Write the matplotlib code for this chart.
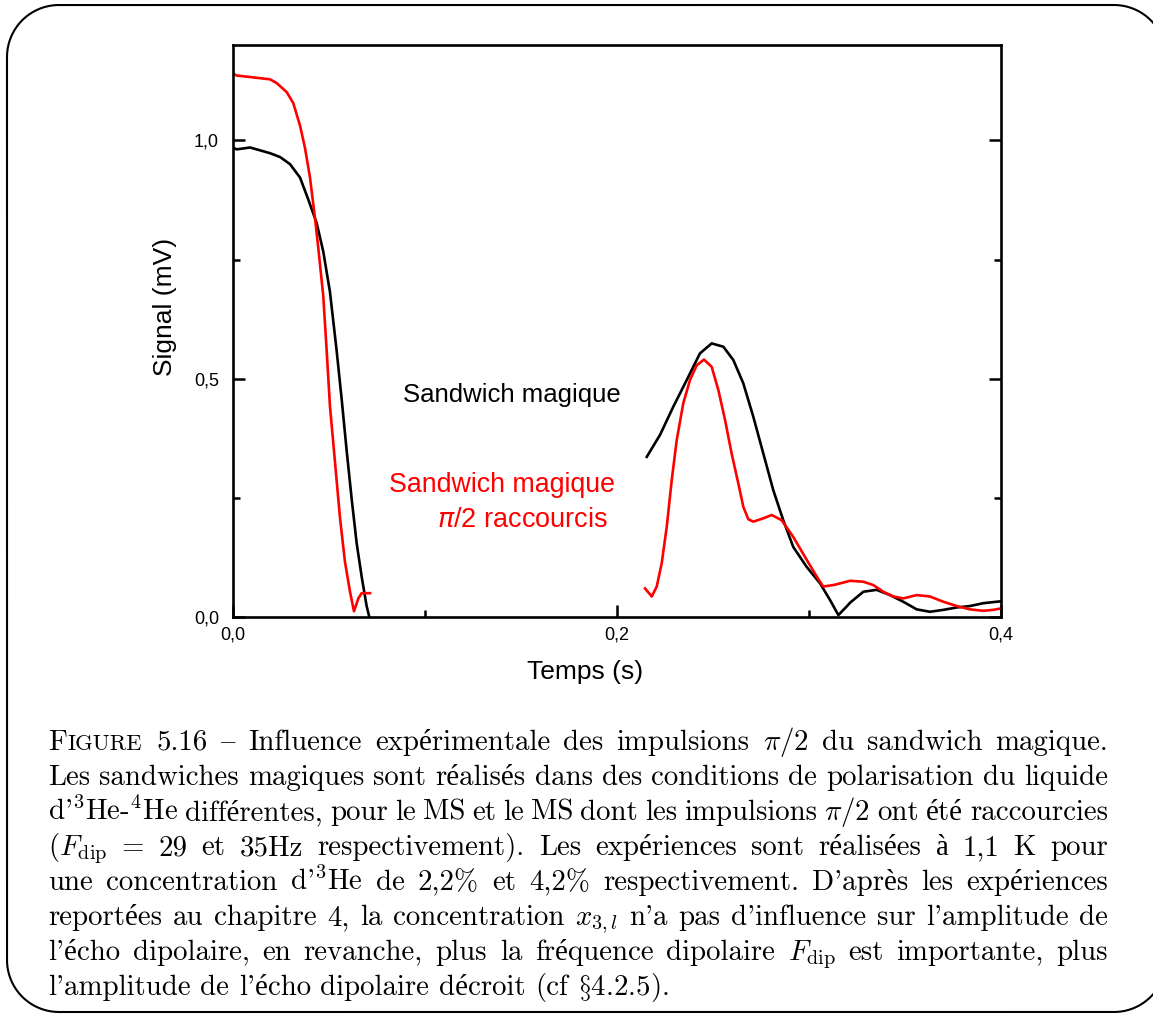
import matplotlib
matplotlib.use("Agg")
import numpy as np
import matplotlib.pyplot as plt
from matplotlib.lines import Line2D
from matplotlib.ticker import FuncFormatter, MultipleLocator

W, H = 1153, 1016
plt.rcParams["font.family"] = ["Liberation Sans", "DejaVu Sans"]
plt.rcParams["mathtext.fontset"] = "cm"

# values: time (s), signal (mV)
black_fid_t = [0.000, 0.0019, 0.0089, 0.0193, 0.0245, 0.0297, 0.0349, 0.0392, 0.0436,
               0.0470, 0.0505, 0.0540, 0.0566, 0.0592, 0.0618, 0.0644, 0.0670, 0.0696, 0.0710]
black_fid_v = [0.985, 0.981, 0.985, 0.973, 0.965, 0.950, 0.922, 0.876, 0.826,
               0.767, 0.682, 0.558, 0.457, 0.349, 0.248, 0.155, 0.085, 0.023, 0.000]

red_fid_t = [0.000, 0.0019, 0.0193, 0.0228, 0.0280, 0.0314, 0.0349, 0.0375, 0.0401, 0.0427,
             0.0444, 0.0470, 0.0488, 0.0505, 0.0531, 0.0557, 0.0583, 0.0609, 0.0630, 0.0653,
             0.0670, 0.0714]
red_fid_v = [1.140, 1.136, 1.128, 1.120, 1.101, 1.078, 1.031, 0.984, 0.922, 0.837,
             0.775, 0.674, 0.558, 0.442, 0.326, 0.209, 0.116, 0.054, 0.012, 0.039,
             0.050, 0.050]

black_echo_t = [0.2155, 0.2224, 0.2293, 0.2363, 0.2432, 0.2493, 0.2554, 0.2606, 0.2658,
                0.2710, 0.2762, 0.2814, 0.2866, 0.2918, 0.2988, 0.3057, 0.3109, 0.3153,
                0.3196, 0.3214, 0.3283, 0.3352, 0.3422, 0.3491, 0.3561, 0.3630, 0.3700,
                0.3769, 0.3839, 0.3908, 0.4000]
black_echo_v = [0.336, 0.382, 0.441, 0.497, 0.553, 0.574, 0.567, 0.539, 0.490,
                0.420, 0.343, 0.266, 0.203, 0.147, 0.105, 0.071, 0.036, 0.004,
                0.022, 0.030, 0.053, 0.057, 0.046, 0.032, 0.016, 0.011, 0.015,
                0.020, 0.023, 0.029, 0.033]

red_echo_t = [0.2146, 0.2181, 0.2207, 0.2233, 0.2259, 0.2285, 0.2311, 0.2345, 0.2380,
              0.2415, 0.2453, 0.2493, 0.2528, 0.2563, 0.2597, 0.2632, 0.2658, 0.2684,
              0.2710, 0.2762, 0.2806, 0.2858, 0.2918, 0.2988, 0.3040, 0.3074, 0.3127,
              0.3196, 0.3214, 0.3283, 0.3335, 0.3387, 0.3439, 0.3491, 0.3561, 0.3630,
              0.3700, 0.3769, 0.3839, 0.3908, 0.3960, 0.4000]
red_echo_v = [0.060, 0.043, 0.064, 0.113, 0.189, 0.287, 0.371, 0.448, 0.497,
              0.528, 0.540, 0.525, 0.476, 0.413, 0.343, 0.280, 0.231, 0.205,
              0.200, 0.207, 0.214, 0.203, 0.168, 0.120, 0.085, 0.064, 0.067,
              0.074, 0.076, 0.074, 0.067, 0.053, 0.043, 0.039, 0.046, 0.043,
              0.032, 0.023, 0.016, 0.013, 0.015, 0.018]

caption = [
    r"FIGURE 5.16 – Influence expérimentale des impulsions $\pi/2$ du sandwich magique.",
    r"Les sandwiches magiques sont réalisés dans des conditions de polarisation du liquide",
    r"d'$^3$He-$^4$He différentes, pour le MS et le MS dont les impulsions $\pi/2$ ont été raccourcies",
    r"($F_\mathrm{dip}$ = 29 et 35Hz respectivement). Les expériences sont réalisées à 1,1 K pour",
    r"une concentration d'$^3$He de 2,2% et 4,2% respectivement. D'après les expériences",
    r"reportées au chapitre 4, la concentration $x_{3,l}$ n'a pas d'influence sur l'amplitude de",
    r"l'écho dipolaire, en revanche, plus la fréquence dipolaire $F_\mathrm{dip}$ est importante, plus",
    r"l'amplitude de l'écho dipolaire décroit (cf $\S$4.2.5).",
]

fig = plt.figure(figsize=(W / 100, H / 100), dpi=100)
ax = fig.add_axes([233 / W, 1 - 617 / H, 768 / W, 572 / H])

ax.plot(black_fid_t, black_fid_v, color="black", lw=1.9)
ax.plot(red_fid_t, red_fid_v, color="#ff0000", lw=1.9)
ax.plot(black_echo_t, black_echo_v, color="black", lw=1.9)
ax.plot(red_echo_t, red_echo_v, color="#ff0000", lw=1.9)

ax.set_xlim(0, 0.4)
ax.set_ylim(0, 1.2)
ax.xaxis.set_major_locator(MultipleLocator(0.2))
ax.xaxis.set_minor_locator(MultipleLocator(0.1))
ax.yaxis.set_major_locator(MultipleLocator(0.5))
ax.yaxis.set_minor_locator(MultipleLocator(0.25))
comma = FuncFormatter(lambda v, p: f"{v:.1f}".replace(".", ","))
ax.xaxis.set_major_formatter(comma)
ax.yaxis.set_major_formatter(comma)
ax.tick_params(which="both", direction="in", width=1.8, right=True, labelsize=13)
ax.tick_params(which="major", length=8.5)
ax.tick_params(which="minor", length=5)
ax.tick_params(axis="y", pad=10)
ax.tick_params(axis="x", pad=7)
for s in ax.spines.values():
    s.set_linewidth(1.9)

ax.text(0.458, -0.096, "Temps (s)", transform=ax.transAxes, ha="center", va="center", fontsize=19)
ax.text(-0.0885, 0.542, "Signal (mV)", transform=ax.transAxes, ha="center", va="center",
        rotation=90, fontsize=19)

ax.text(0.1455, 0.465, "Sandwich magique", ha="center", va="center", fontsize=18.5)
ax.text(0.199, 0.277, "Sandwich magique", ha="right", va="center", fontsize=19.3, color="#ff0000")
ax.text(0.1953, 0.203, r"$\pi$/2 raccourcis", ha="right", va="center", fontsize=19.5,
        color="#ff0000", math_fontfamily="dejavusans")

# rounded frame around the whole figure (pixel coords, y up)
x0, x1, bot, top, r = 7, 1166, H - 1012, H - 5, 52
arcs = []
for cx, cy, a0 in [(x1 - r, top - r, 0), (x0 + r, top - r, 90),
                   (x0 + r, bot + r, 180), (x1 - r, bot + r, 270)]:
    a = np.radians(np.linspace(a0, a0 + 90, 40))
    arcs.append(np.column_stack([cx + r * np.cos(a), cy + r * np.sin(a)]))
pts = np.vstack(arcs + [arcs[0][:1]])
fig.add_artist(Line2D(pts[:, 0] / W, pts[:, 1] / H, transform=fig.transFigure,
                      color="black", lw=1.5))

# justified caption, placed word by word (cmr10: '{' is the en dash glyph,
# accented letters come from the serif fallback)
CAP_FONT = ["cmr10", "Liberation Serif"]
CAP_SIZE = 20.8
X0, X1 = 48, 1108
renderer = fig.canvas.get_renderer()
for i, line in enumerate(caption):
    base = 750 + 35 * i
    words = line.split(" ")
    items, widths = [], []
    for w in words:
        if w == "–":
            w = "{"
        segs = [("F", 1.0), ("IGURE", 0.78)] if w == "FIGURE" else [(w, 1.0)]
        texts, wsum = [], 0.0
        for s, k in segs:
            t = fig.text(0, 1 - base / H, s, fontsize=CAP_SIZE * k, family=CAP_FONT,
                         va="baseline", ha="left")
            wd = t.get_window_extent(renderer).width
            texts.append((t, wd))
            wsum += wd + (1.0 if len(segs) > 1 else 0.0)
        items.append(texts)
        widths.append(wsum)
    total = sum(widths)
    natural_gap = CAP_SIZE * 100 / 72 * 0.333
    if i < len(caption) - 1:
        gap = max((X1 - X0 - total) / (len(words) - 1), 3.0)
    else:
        gap = natural_gap
    x = X0
    for texts in items:
        for t, wd in texts:
            t.set_x(x / W)
            x += wd + (1.0 if len(texts) > 1 else 0.0)
        x += gap

fig.savefig("out.png", dpi=100)
